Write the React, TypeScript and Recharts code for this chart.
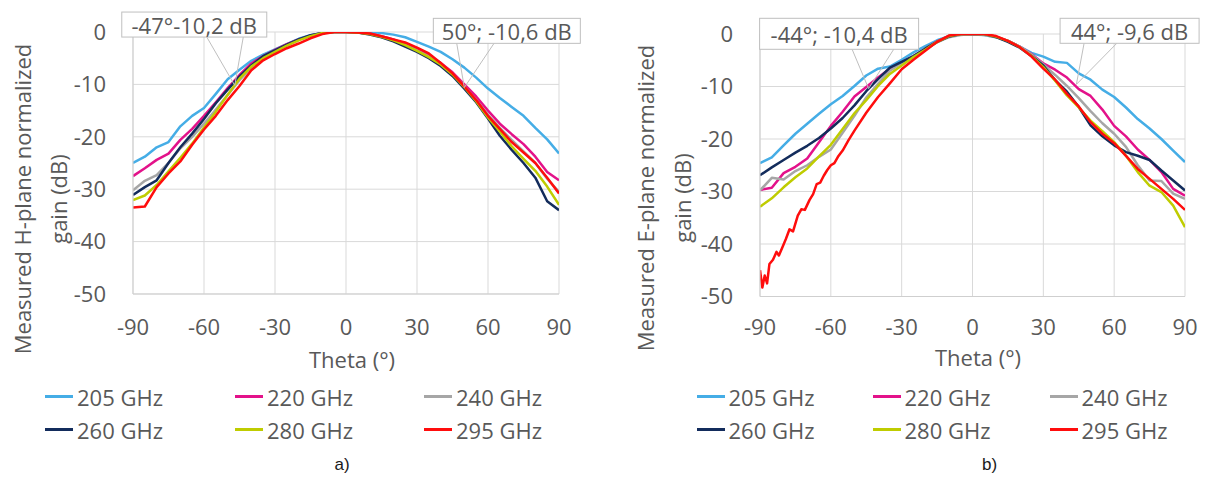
import React from 'react';
import { LineChart, Line, XAxis, YAxis, CartesianGrid, Legend, ReferenceDot } from 'recharts';

// ---------- data ----------
const THETA = [-90, -85, -80, -75, -70, -65, -60, -55, -50, -45, -40, -35, -30, -25, -20, -15, -10, -5, 0,
  5, 10, 15, 20, 25, 30, 35, 40, 45, 50, 55, 60, 65, 70, 75, 80, 85, 90];

const X_TICKS = [-90, -60, -30, 0, 30, 60, 90];
const Y_TICKS = [0, -10, -20, -30, -40, -50];

const SERIES_NAMES = ['205 GHz', '220 GHz', '240 GHz', '260 GHz', '280 GHz', '295 GHz'];
const SERIES_COLORS = ['#45ADE6', '#E3128A', '#A6A6A6', '#132C5C', '#BFCC00', '#FF0D0D'];

// H-plane (a)
const H_205 = [-25.0, -23.8, -22.0, -21.0, -18.0, -16.0, -14.5, -11.8, -9.0, -7.2, -5.5, -4.3, -3.3, -2.3, -1.3, -0.6, -0.2, 0, 0,
  0, 0, -0.2, -0.5, -1.0, -1.9, -2.8, -3.8, -5.2, -6.8, -8.7, -10.8, -12.6, -14.3, -16.0, -18.3, -20.5, -23.2];
const H_220 = [-27.5, -26.0, -24.4, -23.2, -20.6, -18.5, -16.0, -13.4, -10.7, -8.2, -6.0, -4.6, -3.4, -2.3, -1.4, -0.7, -0.2, 0, 0,
  -0.1, -0.3, -0.8, -1.4, -2.3, -3.3, -4.5, -5.9, -7.7, -10.0, -12.3, -15.0, -17.5, -19.5, -21.4, -23.8, -26.7, -28.3];
const H_240 = [-30.2, -28.4, -27.3, -25.0, -22.2, -20.0, -17.5, -14.8, -12.0, -9.2, -6.8, -5.0, -3.6, -2.5, -1.5, -0.7, -0.2, 0, 0,
  -0.1, -0.4, -0.9, -1.6, -2.5, -3.5, -4.7, -6.1, -8.0, -10.4, -13.0, -15.8, -18.3, -20.6, -22.8, -25.0, -28.0, -30.5];
const H_260 = [-31.1, -29.6, -28.3, -25.0, -22.0, -19.4, -16.6, -13.6, -11.0, -8.5, -6.4, -4.6, -3.5, -2.4, -1.4, -0.6, -0.2, 0, 0,
  -0.1, -0.5, -1.0, -1.8, -2.8, -3.8, -5.0, -6.5, -8.4, -10.8, -13.4, -16.5, -19.8, -22.5, -25.0, -27.8, -32.3, -34.0];
const H_280 = [-32.1, -31.2, -29.2, -26.6, -24.0, -21.3, -18.2, -15.2, -12.0, -8.9, -6.6, -5.0, -3.8, -2.6, -1.6, -0.8, -0.2, 0, 0,
  -0.1, -0.4, -0.9, -1.6, -2.5, -3.6, -4.8, -6.2, -8.1, -10.5, -13.2, -16.3, -19.0, -21.8, -24.2, -26.5, -29.5, -33.0];
const H_295 = [-33.5, -33.3, -29.6, -27.0, -24.7, -21.5, -18.6, -16.0, -13.0, -10.3, -7.3, -5.4, -4.2, -3.1, -2.2, -1.2, -0.4, 0, 0,
  -0.1, -0.3, -0.8, -1.4, -2.0, -3.0, -4.1, -5.9, -7.9, -10.4, -13.0, -16.0, -18.5, -21.0, -23.0, -25.0, -27.8, -30.8];

// E-plane (b)
const E_205 = [-24.6, -23.5, -21.2, -19.0, -17.1, -15.2, -13.4, -11.8, -9.9, -7.9, -6.6, -6.2, -4.9, -3.5, -2.3, -1.2, -0.4, 0, -0.1,
  -0.2, -0.6, -1.3, -2.4, -3.6, -4.3, -5.3, -5.5, -7.5, -8.7, -10.6, -12.0, -14.0, -16.2, -18.0, -20.0, -22.2, -24.4];
const E_220 = [-29.7, -29.3, -26.5, -25.3, -23.7, -20.6, -17.5, -14.8, -11.9, -10.1, -8.3, -6.6, -5.4, -4.2, -2.8, -1.4, -0.4, 0, 0,
  0, -0.5, -1.3, -2.4, -3.8, -5.6, -6.8, -8.3, -10.5, -11.8, -14.4, -17.5, -19.5, -22.0, -24.0, -26.3, -29.5, -30.8];
const E_240 = [-29.8, -27.4, -27.7, -26.1, -25.0, -23.4, -22.0, -18.8, -15.6, -12.1, -9.5, -7.0, -5.5, -4.2, -2.9, -1.6, -0.6, -0.2, 0,
  -0.2, -0.6, -1.3, -2.4, -3.9, -5.8, -7.8, -9.9, -12.2, -14.7, -17.0, -19.0, -21.5, -25.0, -27.9, -28.0, -30.4, -31.4];
const E_260 = [-26.9, -25.4, -24.0, -22.6, -21.3, -19.8, -18.0, -16.0, -13.6, -10.9, -8.6, -6.4, -5.3, -4.2, -2.8, -1.5, -0.5, 0, 0,
  0, -0.6, -1.5, -2.6, -4.2, -6.0, -8.8, -11.0, -13.9, -17.4, -19.5, -21.2, -22.5, -23.2, -24.0, -26.0, -27.9, -29.8];
const E_280 = [-32.9, -31.3, -29.2, -27.3, -25.6, -23.3, -21.1, -18.1, -15.1, -12.6, -9.9, -7.6, -6.0, -4.4, -3.0, -1.5, -0.4, 0, 0,
  0, -0.5, -1.3, -2.5, -4.2, -6.3, -8.9, -11.7, -14.0, -16.5, -18.5, -20.6, -23.2, -26.3, -28.9, -30.1, -32.7, -36.8];
const THETA_E_295 = [-90, -89, -88, -87, -86, -84.5, -83, -82, -80.5, -79, -77.5, -76, -74, -72.5, -71, -69, -67.5, -66, -64.5, -63,
  -61.5, -60, -58.5, -57, -55, -52.5, -50, -45, -40, -35, -30, -25, -20, -15, -10, -5, 0,
  5, 10, 15, 20, 25, 30, 35, 40, 45, 50, 55, 60, 65, 70, 75, 80, 85, 90];
const E_295 = [-45.0, -48.3, -46.0, -47.5, -43.8, -43.0, -41.5, -42.2, -40.6, -39.0, -37.2, -37.6, -34.6, -33.4, -33.5, -31.6, -30.5, -28.6, -28.3, -27.0,
  -25.9, -25.0, -24.6, -23.4, -22.2, -20.2, -18.4, -15.0, -12.0, -9.4, -6.7, -4.9, -3.2, -1.5, -0.3, 0, 0,
  0, -0.4, -1.3, -2.5, -4.3, -6.6, -8.7, -11.4, -13.8, -16.8, -19.0, -20.8, -23.2, -25.7, -27.6, -29.5, -31.4, -33.5];

const H_VALUES = [H_205, H_220, H_240, H_260, H_280, H_295];
const E_VALUES = [E_205, E_220, E_240, E_260, E_280, E_295];
const E_THETAS = [THETA, THETA, THETA, THETA, THETA, THETA_E_295];

const H_ANNOT_THETA = [-47, 50];
const H_ANNOT_GAIN = [-10.2, -10.6];
const H_ANNOT_TEXT = ['-47°-10,2 dB', '50°; -10,6 dB'];
const E_ANNOT_THETA = [-44, 44];
const E_ANNOT_GAIN = [-10.4, -9.6];
const E_ANNOT_TEXT = ['-44°; -10,4 dB', '44°; -9,6 dB'];

// ---------- styles ----------
const FONT = "'Open Sans', 'Noto Sans', sans-serif";
const TEXT_COLOR = '#595959';
const GRID_COLOR = '#D9D9D9';
const AXIS_COLOR = '#CFCFCF';
const BOX_COLOR = '#BFBFBF';

const H_BOXES = [
  { left: -113, top: -73.4, w: 145, h: 25, l1: -28, l2: 8.5 },
  { left: -31, top: -69.2, w: 147, h: 25, l1: -7.6, l2: 29.7 },
];
const E_BOXES = [
  { left: -109, top: -70.3, w: 159, h: 31, l1: -16.5, l2: 25.1 },
  { left: -16.3, top: -66.1, w: 139, h: 25, l1: 7.7, l2: 40.4 },
];

type Box = { left: number; top: number; w: number; h: number; l1: number; l2: number };

function Callout({ cx, cy, text, box }: { cx: number; cy: number; text: string; box: Box }) {
  const bottom = cy + box.top + box.h;
  return (
    <g>
      <line x1={cx + box.l1} y1={bottom} x2={cx} y2={cy} stroke={BOX_COLOR} strokeWidth={1} />
      <line x1={cx + box.l2} y1={bottom} x2={cx} y2={cy} stroke={BOX_COLOR} strokeWidth={1} />
      <rect x={cx + box.left} y={cy + box.top} width={box.w} height={box.h} fill="#FFFFFF" stroke={BOX_COLOR} strokeWidth={1} />
      <text
        x={cx + box.left + box.w / 2}
        y={cy + box.top + box.h / 2}
        textAnchor="middle"
        dominantBaseline="central"
        fill={TEXT_COLOR}
        fontSize={22}
        fontFamily={FONT}
      >
        {text}
      </text>
    </g>
  );
}

const makeLegend = (cols: string) => (props: any) => {
  const payload = props.payload || [];
  return (
    <div
      style={{
        display: 'grid',
        gridTemplateColumns: cols,
        fontFamily: FONT,
        fontSize: 22,
        color: TEXT_COLOR,
      }}
    >
      {payload.map((item: any) => (
        <div key={item.value} style={{ display: 'flex', alignItems: 'center', height: 33.3, whiteSpace: 'nowrap' }}>
          <span style={{ display: 'inline-block', width: 28, height: 3, background: item.color, marginRight: 4 }} />
          <span>{item.value}</span>
        </div>
      ))}
    </div>
  );
};

type ChartCfg = {
  width: number;
  top: number;
  right: number;
  bottom: number;
  yWidth: number;
  xTickMargin: number;
  thetas: number[][];
  values: number[][];
  annTheta: number[];
  annGain: number[];
  annText: string[];
  boxes: Box[];
  legendLeft: number;
  legendCols: string;
  prefix: string;
};

function PatternChart({ cfg }: { cfg: ChartCfg }) {
  const tickStyle = { fill: TEXT_COLOR, fontSize: 22, fontFamily: FONT };
  return (
    <LineChart
      width={cfg.width}
      height={477}
      margin={{ top: cfg.top, right: cfg.right, bottom: cfg.bottom, left: 0 }}
    >
      <CartesianGrid stroke={GRID_COLOR} strokeWidth={1} />
      <XAxis
        type="number"
        dataKey="theta"
        domain={[-90, 90]}
        ticks={X_TICKS}
        interval={0}
        allowDataOverflow
        height={30}
        tickSize={0}
        tickMargin={cfg.xTickMargin}
        tickLine={false}
        axisLine={{ stroke: AXIS_COLOR }}
        tick={tickStyle}
      />
      <YAxis
        type="number"
        domain={[-50, 0]}
        ticks={Y_TICKS}
        interval={0}
        allowDataOverflow
        width={cfg.yWidth}
        tickSize={0}
        tickMargin={27}
        tickLine={false}
        axisLine={{ stroke: AXIS_COLOR }}
        tick={tickStyle}
      />
      {SERIES_NAMES.map((name, si) => {
        const key = `${cfg.prefix}${si}`;
        const pts = cfg.thetas[si].map((t, i) => ({ theta: t, [key]: cfg.values[si][i] }));
        return (
          <Line
            key={key}
            data={pts}
            dataKey={key}
            name={name}
            type="linear"
            stroke={SERIES_COLORS[si]}
            strokeWidth={2.5}
            strokeLinejoin="round"
            dot={false}
            activeDot={false}
            isAnimationActive={false}
          />
        );
      })}
      {cfg.annTheta.map((t, i) => (
        <ReferenceDot
          key={`ann${i}`}
          x={t}
          y={cfg.annGain[i]}
          r={1}
          fill="none"
          stroke="none"
          shape={(p: any) => <Callout cx={p.cx} cy={p.cy} text={cfg.annText[i]} box={cfg.boxes[i]} />}
        />
      ))}
      <Legend
        layout="horizontal"
        verticalAlign="middle"
        align="center"
        wrapperStyle={{ top: 380, left: cfg.legendLeft, width: cfg.width - cfg.legendLeft }}
        content={makeLegend(cfg.legendCols)}
      />
    </LineChart>
  );
}

const LEFT_CFG: ChartCfg = {
  width: 600,
  top: 32,
  right: 41,
  bottom: 153,
  yWidth: 133,
  xTickMargin: 25,
  thetas: [THETA, THETA, THETA, THETA, THETA, THETA],
  values: H_VALUES,
  annTheta: H_ANNOT_THETA,
  annGain: H_ANNOT_GAIN,
  annText: H_ANNOT_TEXT,
  boxes: H_BOXES,
  legendLeft: 45,
  legendCols: '190px 189px 189px',
  prefix: 'h',
};

const RIGHT_CFG: ChartCfg = {
  width: 607,
  top: 34,
  right: 22,
  bottom: 150.5,
  yWidth: 160,
  xTickMargin: 23,
  thetas: E_THETAS,
  values: E_VALUES,
  annTheta: E_ANNOT_THETA,
  annGain: E_ANNOT_GAIN,
  annText: E_ANNOT_TEXT,
  boxes: E_BOXES,
  legendLeft: 96.5,
  legendCols: '176px 177px 177px',
  prefix: 'e',
};

export default function App() {
  const title = { fill: TEXT_COLOR, fontSize: 22, fontFamily: FONT };
  return (
    <div style={{ position: 'absolute', left: 0, top: 0, width: 1207, height: 477, background: '#FFFFFF', overflow: 'hidden' }}>
      <div style={{ position: 'absolute', left: 0, top: 0 }}>
        <PatternChart cfg={LEFT_CFG} />
      </div>
      <div style={{ position: 'absolute', left: 600, top: 0 }}>
        <PatternChart cfg={RIGHT_CFG} />
      </div>
      <svg
        width={1207}
        height={477}
        style={{ position: 'absolute', left: 0, top: 0, pointerEvents: 'none' }}
      >
        <text x={21.5} y={199} transform="rotate(-90 21.5 199)" textAnchor="middle" dominantBaseline="central" {...title}>
          Measured H-plane normalized
        </text>
        <text x={58} y={199} transform="rotate(-90 58 199)" textAnchor="middle" dominantBaseline="central" {...title}>
          gain (dB)
        </text>
        <text x={645} y={198} transform="rotate(-90 645 198)" textAnchor="middle" dominantBaseline="central" {...title}>
          Measured E-plane normalized
        </text>
        <text x={682} y={198} transform="rotate(-90 682 198)" textAnchor="middle" dominantBaseline="central" {...title}>
          gain (dB)
        </text>
        <text x={352} y={368} textAnchor="middle" {...title}>Theta (°)</text>
        <text x={978} y={366} textAnchor="middle" {...title}>Theta (°)</text>
        <text x={342} y={470} textAnchor="middle" fill="#1A1A1A" fontSize={17} fontFamily="'Liberation Sans', Arial, sans-serif">a)</text>
        <text x={989.5} y={470} textAnchor="middle" fill="#1A1A1A" fontSize={17} fontFamily="'Liberation Sans', Arial, sans-serif">b)</text>
      </svg>
    </div>
  );
}
